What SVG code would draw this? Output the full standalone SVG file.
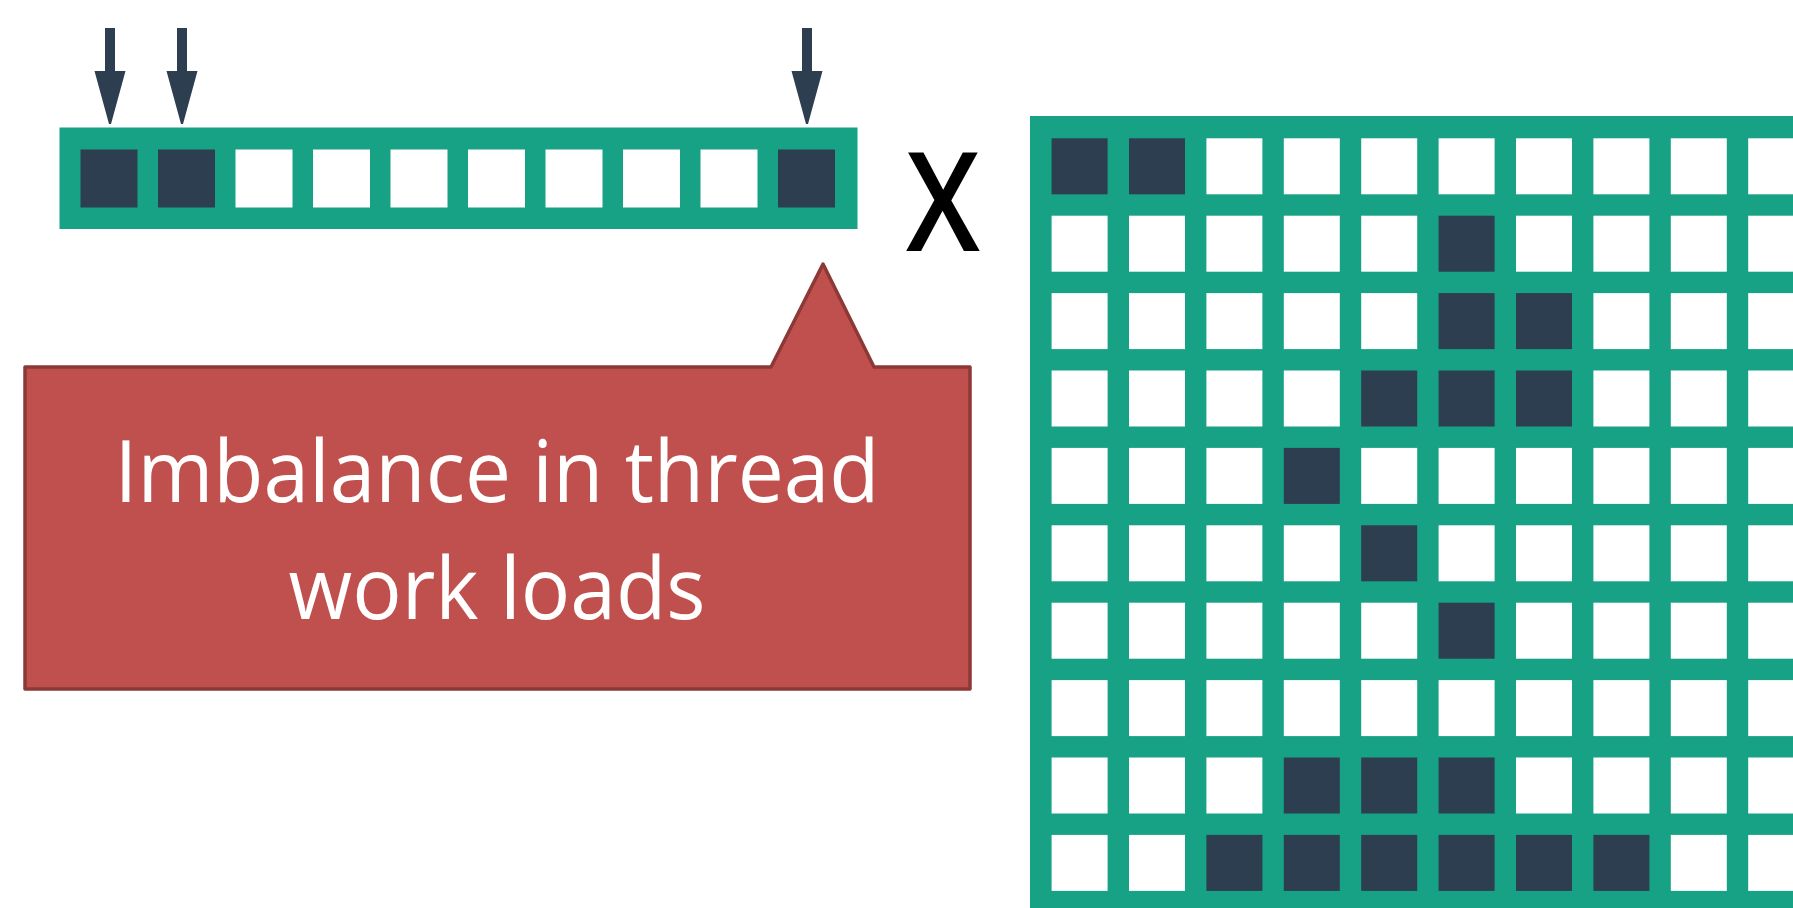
<svg xmlns="http://www.w3.org/2000/svg" width="1793" height="908" viewBox="0 0 1793 908">
<style>
.g{fill:#17A185}
.w{fill:#FFFFFF}
.d{fill:#2D3E50}
.arr{fill:#2D3E50}
.lbl{font-family:"Open Sans","Noto Sans","Liberation Sans",sans-serif;fill:#FFFFFF;font-size:86px;text-anchor:middle}
.x{font-family:"Open Sans","Noto Sans","Liberation Sans",sans-serif;fill:#000000;font-size:137px;font-weight:600;text-anchor:middle}
</style>
<defs>
<rect id="vc" width="57" height="58"/>
<rect id="mc" width="56" height="56"/>
<path id="arrow" d="M-5,28 L5,28 L5,71 L15.5,71 L1,124 L-1,124 L-15.5,71 L-5,71 Z"/>
</defs>
<rect width="1793" height="908" fill="#FFFFFF"/>

<g id="connectors">
<use href="#arrow" class="arr" x="110" y="0"/>
<use href="#arrow" class="arr" x="182" y="0"/>
<use href="#arrow" class="arr" x="807" y="0"/>
</g>

<g id="vector">
<rect class="g" x="59.5" y="127.5" width="798" height="101.5"/>
<use href="#vc" class="d" x="80.5" y="149.5"/>
<use href="#vc" class="d" x="158" y="149.5"/>
<use href="#vc" class="w" x="235.5" y="149.5"/>
<use href="#vc" class="w" x="313" y="149.5"/>
<use href="#vc" class="w" x="390.5" y="149.5"/>
<use href="#vc" class="w" x="468" y="149.5"/>
<use href="#vc" class="w" x="545.5" y="149.5"/>
<use href="#vc" class="w" x="623" y="149.5"/>
<use href="#vc" class="w" x="700.5" y="149.5"/>
<use href="#vc" class="d" x="778" y="149.5"/>
</g>

<g id="times">
<text class="x" x="943" y="250.5" textLength="74" lengthAdjust="spacingAndGlyphs">X</text>
</g>

<g id="callout">
<path d="M25,367 L771,367 L823,264 L874,367 L970,367 L970,689 L25,689 Z" fill="#C0504D" stroke="#8C3836" stroke-width="3.5" stroke-linejoin="round"/>
<text class="lbl" x="497" y="501.5" textLength="765" lengthAdjust="spacingAndGlyphs">Imbalance in thread</text>
<text class="lbl" x="497" y="619" textLength="417" lengthAdjust="spacingAndGlyphs">work loads</text>
</g>

<g id="matrix">
<rect class="g" x="1030" y="116" width="800" height="800"/>
<!-- row 0 -->
<use href="#mc" class="d" x="1051.6" y="138.3"/><use href="#mc" class="d" x="1129" y="138.3"/><use href="#mc" class="w" x="1206.4" y="138.3"/><use href="#mc" class="w" x="1283.8" y="138.3"/><use href="#mc" class="w" x="1361.2" y="138.3"/><use href="#mc" class="w" x="1438.6" y="138.3"/><use href="#mc" class="w" x="1516" y="138.3"/><use href="#mc" class="w" x="1593.4" y="138.3"/><use href="#mc" class="w" x="1670.8" y="138.3"/><use href="#mc" class="w" x="1748.2" y="138.3"/>
<!-- row 1 -->
<use href="#mc" class="w" x="1051.6" y="215.7"/><use href="#mc" class="w" x="1129" y="215.7"/><use href="#mc" class="w" x="1206.4" y="215.7"/><use href="#mc" class="w" x="1283.8" y="215.7"/><use href="#mc" class="w" x="1361.2" y="215.7"/><use href="#mc" class="d" x="1438.6" y="215.7"/><use href="#mc" class="w" x="1516" y="215.7"/><use href="#mc" class="w" x="1593.4" y="215.7"/><use href="#mc" class="w" x="1670.8" y="215.7"/><use href="#mc" class="w" x="1748.2" y="215.7"/>
<!-- row 2 -->
<use href="#mc" class="w" x="1051.6" y="293.1"/><use href="#mc" class="w" x="1129" y="293.1"/><use href="#mc" class="w" x="1206.4" y="293.1"/><use href="#mc" class="w" x="1283.8" y="293.1"/><use href="#mc" class="w" x="1361.2" y="293.1"/><use href="#mc" class="d" x="1438.6" y="293.1"/><use href="#mc" class="d" x="1516" y="293.1"/><use href="#mc" class="w" x="1593.4" y="293.1"/><use href="#mc" class="w" x="1670.8" y="293.1"/><use href="#mc" class="w" x="1748.2" y="293.1"/>
<!-- row 3 -->
<use href="#mc" class="w" x="1051.6" y="370.5"/><use href="#mc" class="w" x="1129" y="370.5"/><use href="#mc" class="w" x="1206.4" y="370.5"/><use href="#mc" class="w" x="1283.8" y="370.5"/><use href="#mc" class="d" x="1361.2" y="370.5"/><use href="#mc" class="d" x="1438.6" y="370.5"/><use href="#mc" class="d" x="1516" y="370.5"/><use href="#mc" class="w" x="1593.4" y="370.5"/><use href="#mc" class="w" x="1670.8" y="370.5"/><use href="#mc" class="w" x="1748.2" y="370.5"/>
<!-- row 4 -->
<use href="#mc" class="w" x="1051.6" y="447.9"/><use href="#mc" class="w" x="1129" y="447.9"/><use href="#mc" class="w" x="1206.4" y="447.9"/><use href="#mc" class="d" x="1283.8" y="447.9"/><use href="#mc" class="w" x="1361.2" y="447.9"/><use href="#mc" class="w" x="1438.6" y="447.9"/><use href="#mc" class="w" x="1516" y="447.9"/><use href="#mc" class="w" x="1593.4" y="447.9"/><use href="#mc" class="w" x="1670.8" y="447.9"/><use href="#mc" class="w" x="1748.2" y="447.9"/>
<!-- row 5 -->
<use href="#mc" class="w" x="1051.6" y="525.3"/><use href="#mc" class="w" x="1129" y="525.3"/><use href="#mc" class="w" x="1206.4" y="525.3"/><use href="#mc" class="w" x="1283.8" y="525.3"/><use href="#mc" class="d" x="1361.2" y="525.3"/><use href="#mc" class="w" x="1438.6" y="525.3"/><use href="#mc" class="w" x="1516" y="525.3"/><use href="#mc" class="w" x="1593.4" y="525.3"/><use href="#mc" class="w" x="1670.8" y="525.3"/><use href="#mc" class="w" x="1748.2" y="525.3"/>
<!-- row 6 -->
<use href="#mc" class="w" x="1051.6" y="602.7"/><use href="#mc" class="w" x="1129" y="602.7"/><use href="#mc" class="w" x="1206.4" y="602.7"/><use href="#mc" class="w" x="1283.8" y="602.7"/><use href="#mc" class="w" x="1361.2" y="602.7"/><use href="#mc" class="d" x="1438.6" y="602.7"/><use href="#mc" class="w" x="1516" y="602.7"/><use href="#mc" class="w" x="1593.4" y="602.7"/><use href="#mc" class="w" x="1670.8" y="602.7"/><use href="#mc" class="w" x="1748.2" y="602.7"/>
<!-- row 7 -->
<use href="#mc" class="w" x="1051.6" y="680.1"/><use href="#mc" class="w" x="1129" y="680.1"/><use href="#mc" class="w" x="1206.4" y="680.1"/><use href="#mc" class="w" x="1283.8" y="680.1"/><use href="#mc" class="w" x="1361.2" y="680.1"/><use href="#mc" class="w" x="1438.6" y="680.1"/><use href="#mc" class="w" x="1516" y="680.1"/><use href="#mc" class="w" x="1593.4" y="680.1"/><use href="#mc" class="w" x="1670.8" y="680.1"/><use href="#mc" class="w" x="1748.2" y="680.1"/>
<!-- row 8 -->
<use href="#mc" class="w" x="1051.6" y="757.5"/><use href="#mc" class="w" x="1129" y="757.5"/><use href="#mc" class="w" x="1206.4" y="757.5"/><use href="#mc" class="d" x="1283.8" y="757.5"/><use href="#mc" class="d" x="1361.2" y="757.5"/><use href="#mc" class="d" x="1438.6" y="757.5"/><use href="#mc" class="w" x="1516" y="757.5"/><use href="#mc" class="w" x="1593.4" y="757.5"/><use href="#mc" class="w" x="1670.8" y="757.5"/><use href="#mc" class="w" x="1748.2" y="757.5"/>
<!-- row 9 -->
<use href="#mc" class="w" x="1051.6" y="834.9"/><use href="#mc" class="w" x="1129" y="834.9"/><use href="#mc" class="d" x="1206.4" y="834.9"/><use href="#mc" class="d" x="1283.8" y="834.9"/><use href="#mc" class="d" x="1361.2" y="834.9"/><use href="#mc" class="d" x="1438.6" y="834.9"/><use href="#mc" class="d" x="1516" y="834.9"/><use href="#mc" class="d" x="1593.4" y="834.9"/><use href="#mc" class="w" x="1670.8" y="834.9"/><use href="#mc" class="w" x="1748.2" y="834.9"/>
</g>
</svg>
